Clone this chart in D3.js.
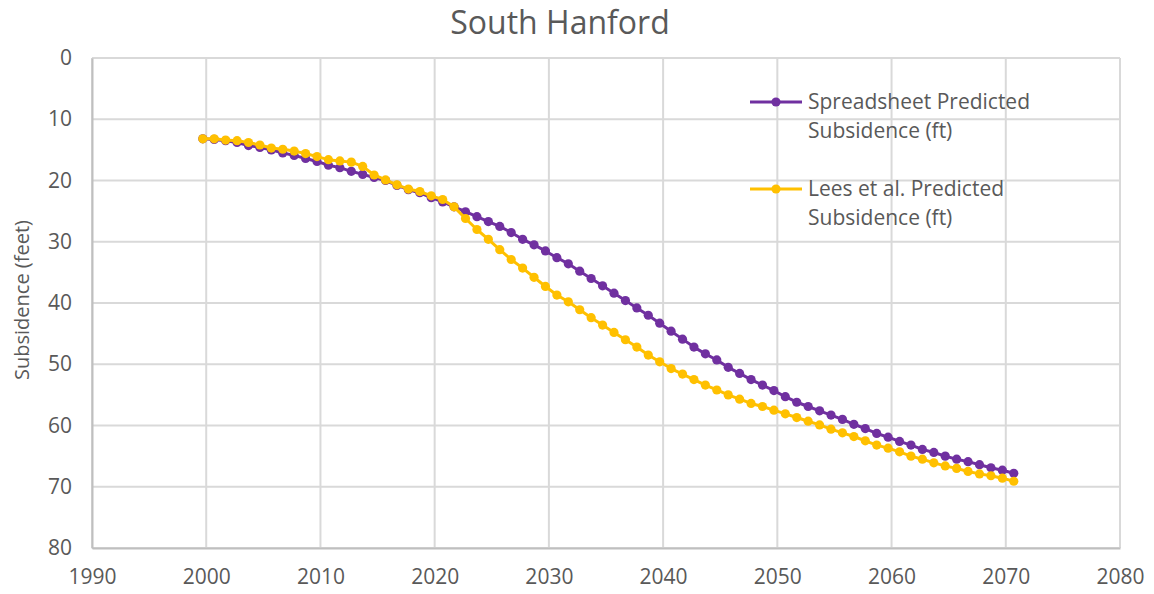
<!DOCTYPE html>
<html>
<head>
<meta charset="utf-8">
<script src="https://cdn.jsdelivr.net/npm/d3@7"></script>
<style>
  html, body { margin: 0; padding: 0; background: #ffffff; }
  svg { display: block; font-family: "Open Sans", Lato, sans-serif; }
</style>
</head>
<body>
<svg id="chart" width="1154" height="594"></svg>
<script>
// Time steps (decimal years) shared by both model runs
const years = [
  1999.7, 2000.7, 2001.7, 2002.7, 2003.7, 2004.7, 2005.7, 2006.7, 2007.7, 2008.7,
  2009.7, 2010.7, 2011.7, 2012.7, 2013.7, 2014.7, 2015.7, 2016.7, 2017.7, 2018.7,
  2019.7, 2020.7, 2021.7, 2022.7, 2023.7, 2024.7, 2025.7, 2026.7, 2027.7, 2028.7,
  2029.7, 2030.7, 2031.7, 2032.7, 2033.7, 2034.7, 2035.7, 2036.7, 2037.7, 2038.7,
  2039.7, 2040.7, 2041.7, 2042.7, 2043.7, 2044.7, 2045.7, 2046.7, 2047.7, 2048.7,
  2049.7, 2050.7, 2051.7, 2052.7, 2053.7, 2054.7, 2055.7, 2056.7, 2057.7, 2058.7,
  2059.7, 2060.7, 2061.7, 2062.7, 2063.7, 2064.7, 2065.7, 2066.7, 2067.7, 2068.7,
  2069.7, 2070.7
];

// Spreadsheet model, predicted subsidence (ft)
const spreadsheetSubsidence = [
  13.2, 13.3, 13.5, 13.8, 14.3, 14.6, 15.0, 15.5, 15.9, 16.4,
  16.9, 17.5, 17.9, 18.5, 19.0, 19.5, 20.0, 20.8, 21.5, 22.0,
  22.8, 23.5, 24.3, 25.1, 25.9, 26.7, 27.5, 28.5, 29.6, 30.5,
  31.5, 32.6, 33.6, 34.8, 36.0, 37.2, 38.4, 39.6, 40.8, 42.0,
  43.3, 44.6, 45.9, 47.2, 48.3, 49.3, 50.5, 51.5, 52.5, 53.4,
  54.3, 55.3, 56.2, 56.9, 57.6, 58.3, 59.0, 59.8, 60.5, 61.3,
  61.9, 62.6, 63.2, 63.9, 64.4, 65.0, 65.5, 65.9, 66.4, 66.9,
  67.3, 67.8
];

// Lees et al. model, predicted subsidence (ft)
const leesSubsidence = [
  13.2, 13.2, 13.4, 13.5, 13.8, 14.2, 14.7, 14.9, 15.2, 15.6,
  16.1, 16.6, 16.8, 17.0, 17.7, 19.1, 19.9, 20.7, 21.4, 21.8,
  22.5, 23.1, 24.3, 26.2, 28.0, 29.6, 31.3, 32.9, 34.3, 35.8,
  37.3, 38.7, 39.8, 41.1, 42.4, 43.6, 44.8, 46.0, 47.2, 48.5,
  49.6, 50.7, 51.6, 52.5, 53.4, 54.2, 55.0, 55.7, 56.4, 56.9,
  57.5, 58.1, 58.7, 59.3, 59.9, 60.6, 61.2, 61.8, 62.5, 63.2,
  63.7, 64.3, 65.0, 65.5, 66.1, 66.6, 67.0, 67.5, 67.9, 68.2,
  68.6, 69.1
];

const xTicks = [1990, 2000, 2010, 2020, 2030, 2040, 2050, 2060, 2070, 2080];
const yTicks = [0, 10, 20, 30, 40, 50, 60, 70, 80];

const seriesNames = ["Spreadsheet Predicted Subsidence (ft)", "Lees et al. Predicted Subsidence (ft)"];
const seriesColors = ["#7030A0", "#FFC000"];

const series = [
  { name: seriesNames[0], color: seriesColors[0], values: spreadsheetSubsidence },
  { name: seriesNames[1], color: seriesColors[1], values: leesSubsidence }
];

const svg = d3.select("#chart");
const textColor = "#595959";
const gridColor = "#d9d9d9";
const labelFont = "21px";
const markerRadius = 4.6;

const plot = { left: 92, right: 1120, top: 58, bottom: 548 };

const x = d3.scaleLinear().domain([1990, 2080]).range([plot.left, plot.right]);
const y = d3.scaleLinear().domain([0, 80]).range([plot.top, plot.bottom]);

// Gridlines
const grid = svg.append("g");
grid.selectAll("line.h").data(yTicks).join("line")
  .attr("x1", plot.left).attr("x2", plot.right)
  .attr("y1", d => y(d)).attr("y2", d => y(d))
  .attr("stroke", gridColor).attr("stroke-width", 2);
grid.selectAll("line.v").data(xTicks).join("line")
  .attr("y1", plot.top).attr("y2", plot.bottom)
  .attr("x1", d => x(d)).attr("x2", d => x(d))
  .attr("stroke", gridColor).attr("stroke-width", 2);

// Axes
const yAxis = svg.append("g")
  .attr("transform", `translate(${plot.left},0)`)
  .call(d3.axisLeft(y).tickValues(yTicks).tickSize(0).tickPadding(20));
const xAxis = svg.append("g")
  .attr("transform", `translate(0,${plot.bottom})`)
  .call(d3.axisBottom(x).tickValues(xTicks).tickSize(0).tickPadding(21).tickFormat(d3.format("d")));
[yAxis, xAxis].forEach(a => {
  a.select(".domain").attr("stroke", "#bfbfbf").attr("stroke-width", 2);
  a.selectAll("text").attr("fill", textColor).style("font-size", labelFont)
    .style("font-family", "'Open Sans', Lato, sans-serif");
});

// Title
svg.append("text")
  .attr("x", 560).attr("y", 34)
  .attr("text-anchor", "middle")
  .attr("fill", textColor)
  .style("font-size", "32px")
  .text("South Hanford");

// Y axis title
svg.append("text")
  .attr("transform", "translate(29,300) rotate(-90)")
  .attr("text-anchor", "middle")
  .attr("fill", textColor)
  .style("font-size", "20px")
  .text("Subsidence (feet)");

// Series: lines and markers
const line = d3.line()
  .x((d, i) => x(years[i]))
  .y(d => y(d));

series.forEach(s => {
  const g = svg.append("g");
  g.append("path")
    .datum(s.values)
    .attr("d", line)
    .attr("fill", "none")
    .attr("stroke", s.color)
    .attr("stroke-width", 3)
    .attr("stroke-linejoin", "round");
  g.selectAll("circle").data(s.values).join("circle")
    .attr("cx", (d, i) => x(years[i]))
    .attr("cy", d => y(d))
    .attr("r", markerRadius)
    .attr("fill", s.color);
});

// Legend
const legendRows = [
  { color: seriesColors[0], lines: ["Spreadsheet Predicted", "Subsidence (ft)"], y: 102 },
  { color: seriesColors[1], lines: ["Lees et al. Predicted", "Subsidence (ft)"], y: 189 }
];
const legend = svg.append("g");
legendRows.forEach(r => {
  legend.append("line")
    .attr("x1", 750).attr("x2", 802).attr("y1", r.y).attr("y2", r.y)
    .attr("stroke", r.color).attr("stroke-width", 3);
  legend.append("circle")
    .attr("cx", 776).attr("cy", r.y).attr("r", markerRadius).attr("fill", r.color);
  r.lines.forEach((t, k) => {
    legend.append("text")
      .attr("x", 808).attr("y", r.y + 7 + k * 29)
      .attr("fill", textColor)
      .style("font-size", labelFont)
      .text(t);
  });
});
</script>
</body>
</html>
